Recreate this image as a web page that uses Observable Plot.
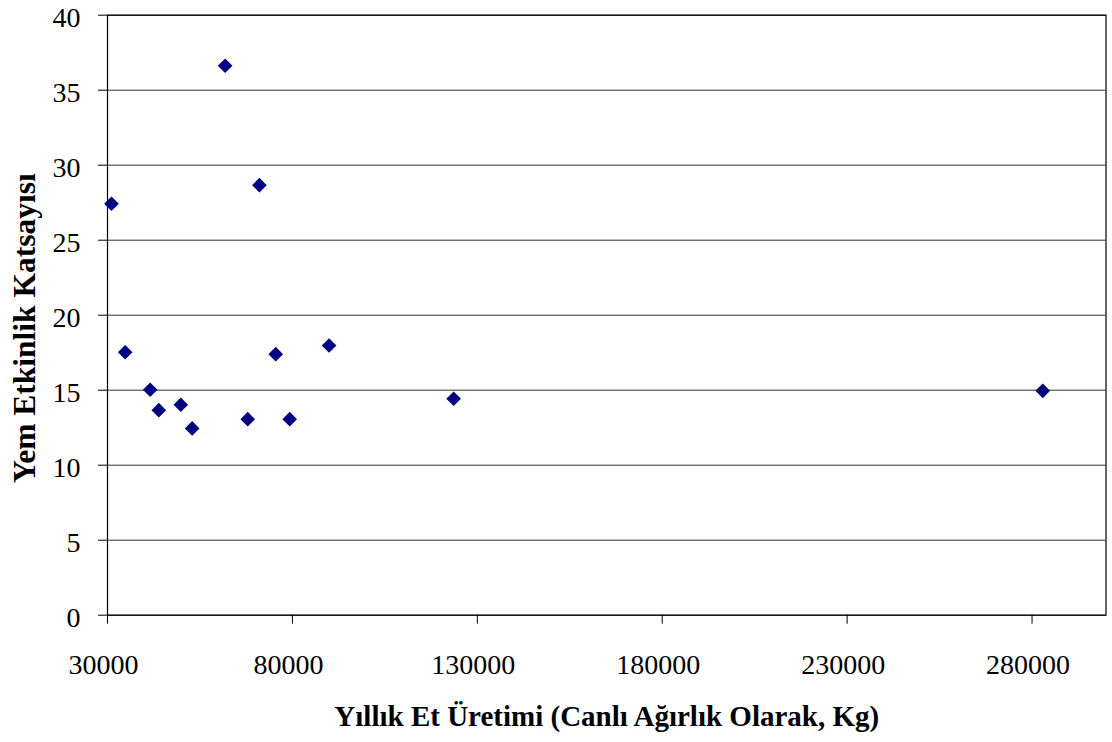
<!DOCTYPE html>
<html>
<head>
<meta charset="utf-8">
<script src="https://cdn.jsdelivr.net/npm/d3@7"></script>
<script src="https://cdn.jsdelivr.net/npm/@observablehq/plot@0.6"></script>
<style>
  html, body { margin: 0; padding: 0; background: #fff; overflow: hidden; }
  #chart svg { display: block; }
</style>
</head>
<body>
<div id="chart"></div>
<script>
// Annual meat production (live weight, kg)
const production = [31080, 34780, 41540, 43870, 49820, 52890, 61810, 67920, 71080, 75490, 79270, 89920, 123600, 282900];
// Feed efficiency coefficient
const efficiency = [27.43, 17.53, 15.03, 13.67, 14.03, 12.45, 36.63, 13.07, 28.67, 17.4, 13.07, 17.98, 14.43, 14.96];
const xTicks = [30000, 80000, 130000, 180000, 230000, 280000];
const yTicks = [0, 5, 10, 15, 20, 25, 30, 35, 40];
const xTitle = "Yıllık Et Üretimi (Canlı Ağırlık Olarak, Kg)";
const yTitle = "Yem Etkinlik Katsayısı";

const data = production.map((p, i) => ({x: p, y: efficiency[i]}));

const chart = Plot.plot({
  width: 1112,
  height: 742,
  marginLeft: 107,
  marginRight: 6.5,
  marginTop: 14.7,
  marginBottom: 127.3,
  style: {fontFamily: "'Liberation Serif', 'Times New Roman', serif", fontSize: "28px", color: "#000", background: "#fff"},
  x: {domain: [30000, 300000]},
  y: {domain: [0, 40]},
  marks: [
    Plot.gridY(yTicks, {stroke: "#333", strokeOpacity: 1, strokeWidth: 1}),
    Plot.frame({stroke: "#000", strokeWidth: 1.2}),
    // tick marks
    Plot.axisY(yTicks, {tickSize: 9, text: null, label: null, stroke: "#000"}),
    Plot.axisX(xTicks, {tickSize: 9, text: null, label: null, stroke: "#000"}),
    // tick labels
    Plot.axisY(yTicks, {tickSize: 0, tickPadding: 27, tickFormat: d => String(d), label: null, dy: 3, fontSize: 28}),
    Plot.axisX(xTicks, {tickSize: 0, tickPadding: 40, tickFormat: d => String(d), label: null, dx: -4, dy: -1, fontSize: 28}),
    Plot.dot(data, {x: "x", y: "y", symbol: "diamond2", r: 6.6, fill: "#000080", stroke: null}),
    Plot.text([xTitle], {frameAnchor: "bottom", dy: 111, lineAnchor: "bottom", text: d => d, fontWeight: "bold", fontSize: 29, textAnchor: "middle"}),
    Plot.text([yTitle], {frameAnchor: "left", dx: -83, dy: 13, rotate: -90, text: d => d, fontWeight: "bold", fontSize: 31.5, textAnchor: "middle", lineAnchor: "middle"})
  ]
});
document.getElementById("chart").appendChild(chart);
</script>
</body>
</html>
